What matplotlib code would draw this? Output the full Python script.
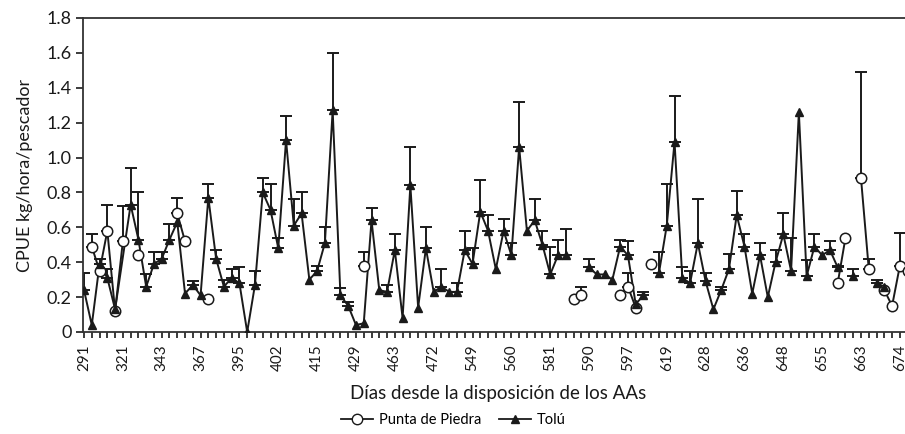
import numpy as np
import matplotlib
matplotlib.use("Agg")
import matplotlib.pyplot as plt
from matplotlib.lines import Line2D

plt.rcParams["font.family"] = ["Lato", "DejaVu Sans"]

# ------------------------------------------------------------
# DATA (nan = no sample that day)
# ------------------------------------------------------------
nan = np.nan
tick_labels = ["291", "321", "343", "367", "395", "402", "415", "429", "463", "472", "549",
               "560", "581", "590", "597", "619", "628", "636", "648", "655", "663", "674"]
label_step = 5

# Tolú mean CPUE per sampling day and upper end of its error bar
tolu = [0.24, 0.04, 0.39, 0.31, 0.13, nan, 0.73, 0.53, 0.26, 0.39,
        0.42, 0.53, 0.63, 0.22, 0.27, 0.21, 0.77, 0.42, 0.26, 0.31,
        0.28, 0.00, 0.27, 0.80, 0.70, 0.48, 1.10, 0.61, 0.68, 0.30,
        0.35, 0.51, 1.27, 0.21, 0.15, 0.04, 0.05, 0.64, 0.24, 0.23,
        0.47, 0.08, 0.84, 0.14, 0.48, 0.23, 0.26, 0.23, 0.23, 0.47,
        0.39, 0.69, 0.58, 0.36, 0.58, 0.44, 1.06, 0.58, 0.64, 0.50,
        0.33, 0.44, 0.44, nan, nan, 0.37, 0.33, 0.33, 0.30, 0.49,
        0.44, 0.16, 0.21, nan, 0.34, 0.61, 1.09, 0.31, 0.28, 0.51,
        0.29, 0.13, 0.24, 0.36, 0.67, 0.49, 0.22, 0.44, 0.20, 0.40,
        0.56, 0.35, 1.26, 0.32, 0.49, 0.44, 0.47, 0.37, nan, 0.32,
        nan, nan, 0.28, 0.26, nan, nan, nan]
tolu_top = [0.34, nan, 0.42, 0.36, nan, nan, 0.94, 0.80, 0.33, 0.46,
            0.46, 0.62, nan, nan, 0.29, nan, 0.85, 0.47, 0.30, 0.36,
            0.37, nan, 0.35, 0.88, 0.85, 0.54, 1.24, 0.76, 0.80, nan,
            0.38, 0.60, 1.60, 0.25, 0.17, nan, nan, 0.71, nan, 0.27,
            0.56, nan, 1.06, nan, 0.60, nan, 0.36, nan, 0.28, 0.58,
            0.48, 0.87, 0.67, nan, 0.65, 0.51, 1.32, nan, 0.76, 0.58,
            0.49, 0.53, 0.59, nan, nan, 0.42, nan, nan, nan, 0.53,
            0.52, nan, 0.23, nan, 0.46, 0.85, 1.35, 0.37, 0.35, 0.76,
            0.34, nan, 0.26, 0.45, 0.81, 0.56, nan, 0.51, nan, 0.47,
            0.68, 0.54, nan, 0.41, 0.56, nan, 0.52, 0.38, nan, 0.36,
            nan, nan, 0.30, nan, nan, nan, nan]

# Punta de Piedra: only the days it was sampled
pdp_idx = [1, 2, 3, 4, 5, 7, 12, 13, 16, 36, 63, 64, 69, 70, 71, 73,
           97, 98, 100, 101, 103, 104, 105, 106]
pdp_val = [0.49, 0.35, 0.58, 0.12, 0.52, 0.44, 0.68, 0.52, 0.19, 0.38, 0.19, 0.21,
           0.21, 0.26, 0.14, 0.39, 0.28, 0.54, 0.88, 0.36, 0.24, 0.15, 0.38, 0.35]
pdp_top = [0.56, nan, 0.73, nan, 0.72, nan, 0.77, nan, nan, 0.46, nan, 0.26,
           nan, 0.34, nan, nan, nan, nan, 1.49, 0.42, nan, nan, 0.57, nan]

# ------------------------------------------------------------
# ARRAYS
# ------------------------------------------------------------
n = len(tolu)
x = np.arange(n)
tolu = np.array(tolu, float)
tolu_top = np.array(tolu_top, float)

pdp = np.full(n, nan)
pdp_hi = np.full(n, nan)
pdp[pdp_idx] = pdp_val
pdp_hi[pdp_idx] = pdp_top

ink = "#1a1a1a"

fig = plt.figure(figsize=(9.05, 4.34), dpi=100)
# right edge runs past the figure, the reference is cropped there
ax = fig.add_axes([82.7 / 905, 102 / 434, (914 - 82.7) / 905, 314 / 434])

# Tolú line: day 5 is empty but the original draws straight across it
ax.plot(np.delete(x, 5), np.delete(tolu, 5), color=ink, lw=1.4, zorder=2)
m = np.isfinite(tolu_top)
ax.errorbar(x[m], tolu[m], yerr=[np.zeros(m.sum()), tolu_top[m] - tolu[m]],
            fmt="none", ecolor=ink, elinewidth=1.4, capsize=4, capthick=1.4, zorder=2)

# Punta de Piedra
ax.plot(x, pdp, color=ink, lw=1.4, marker="o", ms=7.5, mfc="white",
        mec=ink, mew=1.1, zorder=3)
m = np.isfinite(pdp_hi)
ax.errorbar(x[m], pdp[m], yerr=[np.zeros(m.sum()), pdp_hi[m] - pdp[m]],
            fmt="none", ecolor=ink, elinewidth=1.4, capsize=4, capthick=1.4, zorder=2.5)

# Tolú markers on top
ax.plot(x, tolu, ls="none", marker="^", ms=6.3, color=ink, zorder=4)

ax.set_xlim(-0.17, -0.17 + (914 - 82.7) / 7.77)
ax.set_ylim(0, 1.8)
ax.set_yticks(np.arange(0, 1.81, 0.2))
ax.set_yticklabels(["0"] + [f"{v:.1f}" for v in np.arange(0.2, 1.81, 0.2)])

ax.set_xticks(x, minor=True)
ax.set_xticks(x[::label_step])
ax.set_xticklabels(tick_labels, rotation=90)

ax.tick_params(axis="y", direction="out", length=5, width=1.2, labelsize=13,
               colors=ink, pad=3)
ax.tick_params(axis="x", which="both", direction="out", length=4, width=1.2,
               labelsize=11, colors=ink, pad=5)
for side in ["left", "bottom", "top", "right"]:
    ax.spines[side].set_linewidth(1.3)
    ax.spines[side].set_color("#333333")

ax.set_ylabel("CPUE kg/hora/pescador", fontsize=13, color=ink, labelpad=10)
ax.set_xlabel("Días desde la disposición de los AAs", fontsize=13.5, color=ink, labelpad=10)

handles = [
    Line2D([], [], color=ink, lw=1.3, marker="o", ms=7.5, mfc="white", mec=ink),
    Line2D([], [], color=ink, lw=1.3, marker="^", ms=6),
]
fig.legend(handles, ["Punta de Piedra", "Tolú"], loc="center", ncol=2,
           bbox_to_anchor=(453 / 905, 1 - 420 / 434), frameon=False,
           fontsize=10.5, handlelength=2.2, columnspacing=1.2, handletextpad=0.4)

fig.savefig("out.png", dpi=100)
